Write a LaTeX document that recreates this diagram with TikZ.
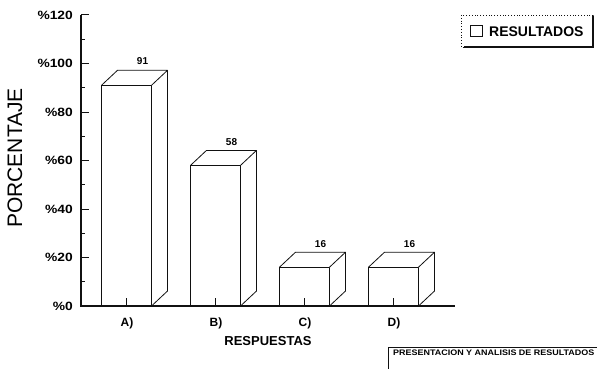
\documentclass[tikz,border=0pt]{standalone}
\usepackage{fontspec}
\setmainfont{Liberation Sans}
\usepackage{graphicx}
\definecolor{vblack}{HTML}{111111}

\tikzset{
	boxline/.style={color=vblack, line width=0.8pt, line join=round},
	ticklabel/.style={anchor=east, inner sep=0pt, font=\bfseries\fontsize{12}{14}\selectfont},
	barvalue/.style={anchor=base, inner sep=0pt, font=\bfseries\fontsize{10}{12}\selectfont},
	catlabel/.style={anchor=base, inner sep=0pt, font=\bfseries\fontsize{12}{14}\selectfont}
}

\begin{document}
\begin{tikzpicture}[x=1pt, y=-1pt]
		\useasboundingbox (0,0) rectangle (597,369);
		% axes
		\draw[color=vblack, line width=1.3pt] (81,15) -- (81,306) -- (455,306);
		% major ticks
		\draw[color=vblack, line width=1pt] (81,15) -- (89,15);
		\draw[color=vblack, line width=1pt] (81,63.5) -- (89,63.5);
		\draw[color=vblack, line width=1pt] (81,112) -- (89,112);
		\draw[color=vblack, line width=1pt] (81,160.5) -- (89,160.5);
		\draw[color=vblack, line width=1pt] (81,209) -- (89,209);
		\draw[color=vblack, line width=1pt] (81,257.5) -- (89,257.5);
		% minor ticks
		\draw[color=vblack, line width=1pt] (81,39.25) -- (85,39.25);
		\draw[color=vblack, line width=1pt] (81,87.75) -- (85,87.75);
		\draw[color=vblack, line width=1pt] (81,136.25) -- (85,136.25);
		\draw[color=vblack, line width=1pt] (81,184.75) -- (85,184.75);
		\draw[color=vblack, line width=1pt] (81,233.25) -- (85,233.25);
		\draw[color=vblack, line width=1pt] (81,281.75) -- (85,281.75);
		% tick labels
		\node[ticklabel] (y120) at (73,15) {\scalebox{1.15}[1]{\%120}};
		\node[ticklabel] (y100) at (73,63.5) {\scalebox{1.15}[1]{\%100}};
		\node[ticklabel] (y80) at (73,112) {\scalebox{1.15}[1]{\%80}};
		\node[ticklabel] (y60) at (73,160.5) {\scalebox{1.15}[1]{\%60}};
		\node[ticklabel] (y40) at (73,209) {\scalebox{1.15}[1]{\%40}};
		\node[ticklabel] (y20) at (73,257.5) {\scalebox{1.15}[1]{\%20}};
		\node[ticklabel] (y0) at (73,306) {\scalebox{1.15}[1]{\%0}};
		\node[rotate=90, inner sep=0pt, font=\fontsize{21}{24}\selectfont] (ylabel) at (15,158) {PORCENTAJE};

		% bar A
		\draw[boxline] (101.5,306) rectangle (151.5,85.3);
		\draw[boxline] (101.5,85.3) -- ++(16,-15) -- ++(50,0) -- (151.5,85.3);
		\draw[boxline] (167.5,70.3) -- (167.5,291) -- (151.5,306);
		% bar B
		\draw[boxline] (190.5,306) rectangle (240.5,165.4);
		\draw[boxline] (190.5,165.4) -- ++(16,-15) -- ++(50,0) -- (240.5,165.4);
		\draw[boxline] (256.5,150.4) -- (256.5,291) -- (240.5,306);
		% bar C
		\draw[boxline] (279.5,306) rectangle (329.5,267.2);
		\draw[boxline] (279.5,267.2) -- ++(16,-15) -- ++(50,0) -- (329.5,267.2);
		\draw[boxline] (345.5,252.2) -- (345.5,291) -- (329.5,306);
		% bar D
		\draw[boxline] (368.5,306) rectangle (418.5,267.2);
		\draw[boxline] (368.5,267.2) -- ++(16,-15) -- ++(50,0) -- (418.5,267.2);
		\draw[boxline] (434.5,252.2) -- (434.5,291) -- (418.5,306);

		% category ticks
		\draw[color=vblack, line width=0.8pt] (126.5,306) -- (126.5,298);
		\draw[color=vblack, line width=0.8pt] (215.5,306) -- (215.5,298);
		\draw[color=vblack, line width=0.8pt] (304.5,306) -- (304.5,298);
		\draw[color=vblack, line width=0.8pt] (393.5,306) -- (393.5,298);

		% values
		\node[barvalue] (vA) at (142.5,65) {91};
		\node[barvalue] (vB) at (231.5,145) {58};
		\node[barvalue] (vC) at (320.5,247) {16};
		\node[barvalue] (vD) at (409.5,247) {16};

		% categories
		\node[catlabel] (cA) at (127,326) {A)};
		\node[catlabel] (cB) at (216,326) {B)};
		\node[catlabel] (cC) at (305,326) {C)};
		\node[catlabel] (cD) at (394,326) {D)};
		\node[anchor=base, inner sep=0pt, font=\bfseries\fontsize{13}{15}\selectfont] (xlabel) at (268,345) {RESPUESTAS};

		% legend
		\draw[color=vblack, line width=0.8pt, dotted] (461,15) rectangle (593,47);
		\draw[color=vblack, line width=1.5pt] (593,16) -- (593,47) -- (464,47);
		\draw[color=vblack, line width=1pt] (470,26) rectangle (482,37);
		\node[anchor=west, inner sep=0pt, font=\bfseries\fontsize{14}{16}\selectfont] (legtext) at (489,31.5) {RESULTADOS};

		% footer box
		\draw[color=vblack, line width=0.8pt] (388,369) -- (388,347) -- (597,347);
		\node[anchor=west, inner sep=0pt, font=\bfseries\fontsize{8}{10}\selectfont] (footer) at (393,352.5) {\scalebox{1.12}[1]{PRESENTACION Y ANALISIS DE RESULTADOS}};
	\end{tikzpicture}
\end{document}
